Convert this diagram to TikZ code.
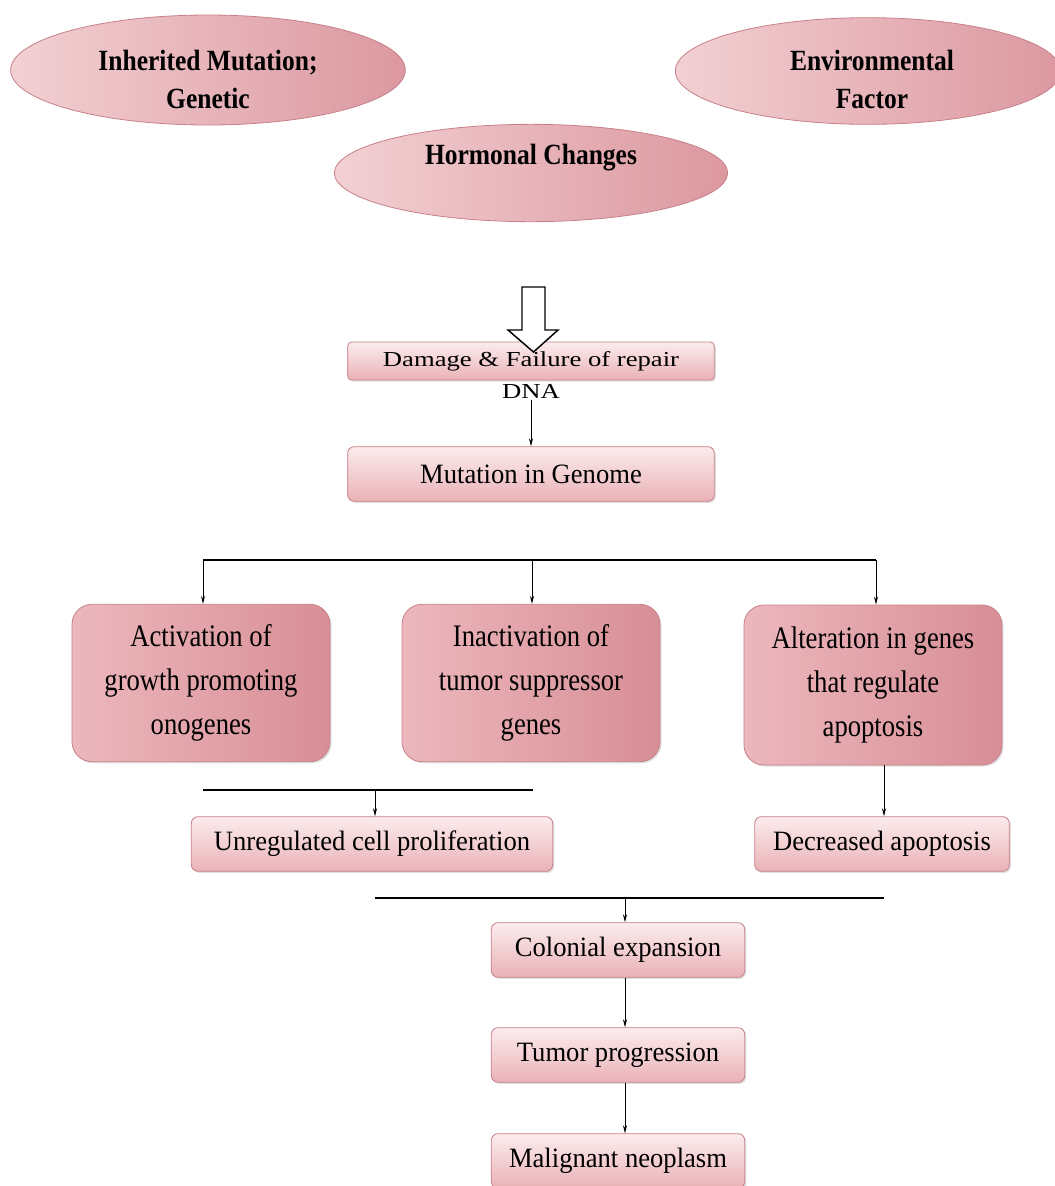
\documentclass[tikz,border=0pt]{standalone}
\usepackage{fontspec}
\setmainfont{Liberation Serif}
\newfontfamily\condA[FakeStretch=0.85]{Liberation Serif}
\newfontfamily\condB[FakeStretch=0.95]{Liberation Serif}
\newfontfamily\condE[FakeStretch=0.87]{Liberation Serif}
\newfontfamily\wideF[FakeStretch=1.25]{Liberation Serif}
\usetikzlibrary{arrows.meta,shapes.geometric,shadows}
\definecolor{ellL}{RGB}{242,208,211}
\definecolor{ellR}{RGB}{220,152,160}
\definecolor{bigL}{RGB}{236,184,189}
\definecolor{bigR}{RGB}{216,142,150}
\definecolor{smT}{RGB}{251,236,237}
\definecolor{smB}{RGB}{234,178,183}
\definecolor{edge}{RGB}{200,128,136}
\tikzset{
  ell/.style={ellipse, draw=edge, line width=0.6pt, left color=ellL, right color=ellR,
    inner sep=0pt},
  elltext/.style={font=\condE\fontsize{22}{28.5}\selectfont\bfseries, align=center, inner sep=0pt},
  bigbox/.style={rectangle, rounded corners=15pt, draw=edge, line width=0.6pt,
    left color=bigL, right color=bigR, minimum width=193.5pt, minimum height=118pt,
    inner sep=0pt, align=center, font=\condA\fontsize{23.5}{33}\selectfont,
    drop shadow={shadow xshift=1.2pt, shadow yshift=-1.2pt, opacity=0.25}},
  smbox/.style={rectangle, rounded corners=5pt, draw=edge, line width=0.6pt,
    top color=smT, bottom color=smB, minimum height=41pt, inner sep=0pt,
    font=\condB\fontsize{21}{24}\selectfont,
    drop shadow={shadow xshift=1.2pt, shadow yshift=-1.2pt, opacity=0.25}},
  arr/.style={-{Stealth[length=6pt,width=3pt]}, line width=0.7pt},
  bar/.style={line width=1.5pt}
}
\begin{document}
\begin{tikzpicture}[x=0.75pt,y=-0.75pt]
\useasboundingbox (0,0) rectangle (1055,1186);
\fill[white] (0,0) rectangle (1055,1186);

% ellipses
\node[ell, minimum width=296pt, minimum height=82.5pt] (inh) at (208,70) {};
\node[elltext] (inht) at (208,79) {Inherited Mutation;\\Genetic};
\node[ell, minimum width=289pt, minimum height=80pt] (env) at (868,71) {};
\node[elltext] (envt) at (872,79) {Environmental\\Factor};
\node[ell, minimum width=295pt, minimum height=73pt] (hor) at (531,173) {};
\node[elltext] (hort) at (531,158) {Hormonal Changes};

% DNA damage
\node[smbox, minimum width=275pt, minimum height=28.5pt, rounded corners=3pt,
  font=\wideF\fontsize{16}{18}\selectfont] (dmg) at (531,361) {Damage \& Failure of repair};
\node[font=\wideF\fontsize{16}{18}\selectfont, inner sep=1pt] (dna) at (531,391) {DNA};
\filldraw[fill=white, draw=black, line width=1.1pt]
  (522,287) -- (545,287) -- (545,330) -- (558,330) -- (533.5,352) -- (508,330) -- (522,330) -- cycle;

\node[smbox, minimum width=275pt] (mut) at (531,474) {Mutation in Genome};
\draw[arr] (dna.south) -- (mut.north);

% three branches
\coordinate (b1) at (203,560);
\coordinate (b2) at (532,560);
\coordinate (b3) at (876,560);
\node[bigbox] (act) at (201,683) {Activation of\\growth promoting\\onogenes};
\node[bigbox] (ina) at (531,683) {Inactivation of\\tumor suppressor\\genes};
\node[bigbox, minimum height=120pt] (alt) at (873,685) {Alteration in genes\\that regulate\\apoptosis};
\draw[bar] (b1) -- (b3);
\draw[arr] (b1) -- (b1 |- act.north);
\draw[arr] (b2) -- (b2 |- ina.north);
\draw[arr] (b3) -- (b3 |- alt.north);

% second level
\node[smbox, minimum width=271pt] (unr) at (372,844) {Unregulated cell proliferation};
\node[smbox, minimum width=191pt] (dec) at (882,844) {Decreased apoptosis};
\coordinate (c1) at (203,790);
\coordinate (c2) at (533,790);
\coordinate (cm) at (375,790);
\draw[bar] (c1) -- (c2);
\draw[arr] (cm) -- (cm |- unr.north);
\coordinate (dtop) at (884,765);
\draw[arr] (dtop) -- (dtop |- dec.north);

% bottom chain
\node[smbox, minimum width=190pt] (col) at (618,950) {Colonial expansion};
\node[smbox, minimum width=190pt] (tum) at (618,1055) {Tumor progression};
\node[smbox, minimum width=190pt] (mal) at (618,1161) {Malignant neoplasm};
\coordinate (d1) at (375,898);
\coordinate (d2) at (884,898);
\coordinate (dm) at (625,898);
\draw[bar] (d1) -- (d2);
\draw[arr] (dm) -- (dm |- col.north);
\coordinate (e1) at (625,978);
\draw[arr] (e1) -- (e1 |- tum.north);
\coordinate (e2) at (625,1083);
\draw[arr] (e2) -- (e2 |- mal.north);
\end{tikzpicture}
\end{document}
